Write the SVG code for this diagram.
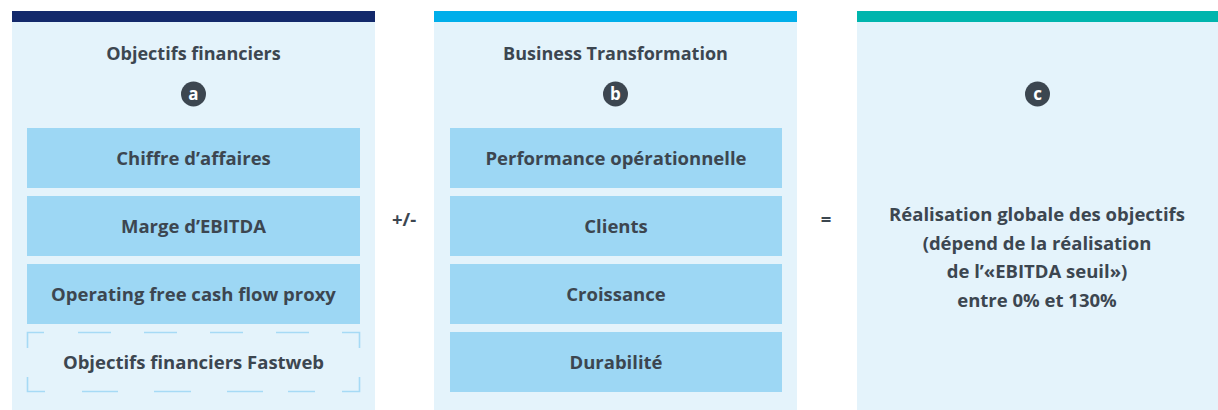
<svg xmlns="http://www.w3.org/2000/svg" width="1218" height="410" viewBox="0 0 1218 410">
<style>
.panel{fill:#e4f3fb}
.box{fill:#9dd7f4}
.t{font-family:"Open Sans","Liberation Sans",sans-serif;font-weight:700;fill:#3c4650;text-anchor:middle}
.title{font-size:18px}
.bt{font-size:18.5px}
.badge{fill:#3c4650}
.bl{font-family:"Open Sans","Liberation Sans",sans-serif;font-weight:700;fill:#ffffff;text-anchor:middle;font-size:17px}
.dash{fill:none;stroke:#a6daf5;stroke-width:1.6}
</style>
<rect width="1218" height="410" fill="#ffffff"/>
<g id="panel-a">
<rect class="panel" x="12" y="22" width="363" height="388"/>
<rect x="12" y="11" width="363" height="11" fill="#13296b"/>
<text class="t title" x="193.5" y="60">Objectifs financiers</text>
<circle class="badge" cx="193.5" cy="94" r="12.5"/>
<text class="bl" x="193.5" y="100">a</text>
</g>
<g id="a1"><rect class="box" x="27" y="128" width="333" height="60"/><text class="t bt" x="193.5" y="165">Chiffre d’affaires</text></g>
<g id="a2"><rect class="box" x="27" y="196" width="333" height="60"/><text class="t bt" x="193.5" y="233">Marge d’EBITDA</text></g>
<g id="a3"><rect class="box" x="27" y="264" width="333" height="60"/><text class="t bt" x="193.5" y="301">Operating free cash flow proxy</text></g>
<g id="a4">
<path class="dash" d="M27.5,348V332.5H44M78,332.5H111M144,332.5H177M210,332.5H243M276,332.5H309M342,332.5H359.5V348M27.5,377V391.5H45M82,391.5H118M154,391.5H191M227,391.5H263M288,391.5H315M342,391.5H359.5V377"/>
<text class="t bt" x="193.5" y="369">Objectifs financiers Fastweb</text>
</g>
<g id="panel-b">
<rect class="panel" x="434" y="22" width="363" height="388"/>
<rect x="434" y="11" width="363" height="11" fill="#00aeea"/>
<text class="t title" x="615.5" y="60">Business Transformation</text>
<circle class="badge" cx="615.5" cy="94" r="12.5"/>
<text class="bl" x="615.5" y="100">b</text>
</g>
<g id="b1"><rect class="box" x="450" y="128" width="332" height="60"/><text class="t bt" x="616" y="165">Performance opérationnelle</text></g>
<g id="b2"><rect class="box" x="450" y="196" width="332" height="60"/><text class="t bt" x="616" y="233">Clients</text></g>
<g id="b3"><rect class="box" x="450" y="264" width="332" height="60"/><text class="t bt" x="616" y="301">Croissance</text></g>
<g id="b4"><rect class="box" x="450" y="332" width="332" height="60"/><text class="t bt" x="616" y="369">Durabilité</text></g>
<g id="panel-c">
<rect class="panel" x="857" y="22" width="363" height="388"/>
<rect x="857" y="11" width="363" height="11" fill="#00b5ad"/>
<circle class="badge" cx="1037.5" cy="94" r="12.5"/>
<text class="bl" x="1037.5" y="100">c</text>
<text class="t bt" x="1037" y="221">Réalisation globale des objectifs</text>
<text class="t bt" x="1037" y="250">(dépend de la réalisation</text>
<text class="t bt" x="1037" y="278">de l’«EBITDA seuil»)</text>
<text class="t bt" x="1037" y="307">entre 0% et 130%</text>
</g>
<g id="connectors">
<text class="t bt" x="404" y="226">+/-</text>
<text class="t bt" x="826" y="226">=</text>
</g>
</svg>
